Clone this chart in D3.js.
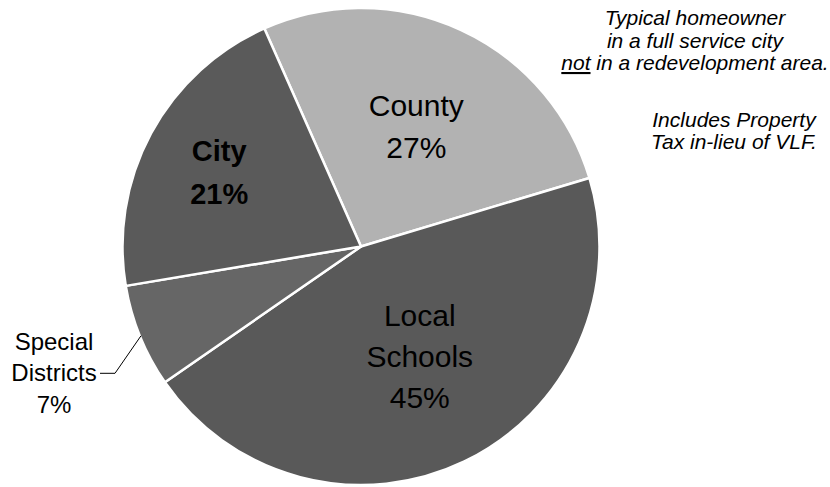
<!DOCTYPE html>
<html>
<head>
<meta charset="utf-8">
<script src="https://cdn.jsdelivr.net/npm/d3@7"></script>
<style>
  html, body { margin: 0; padding: 0; background: #ffffff; }
  svg { display: block; }
  text { font-family: "Liberation Sans", Arial, Helvetica, sans-serif; fill: #000; }
</style>
</head>
<body>
<svg id="chart" width="830" height="487"></svg>
<script>
// Shares of the property tax dollar
const categories = ["County", "Local Schools", "Special Districts", "City"];
const labelLines = [["County"], ["Local", "Schools"], ["Special", "Districts"], ["City"]];
const shares = [27, 45, 7, 21];
const colors = ["#b2b2b2", "#595959", "#666666", "#5a5a5a"];
const noteLines = ["Typical homeowner", "in a full service city", "not in a redevelopment area."];
const noteLines2 = ["Includes Property", "Tax in-lieu of VLF."];

const svg = d3.select("#chart");
const cx = 361, cy = 246.5, R = 238.5;
const startDeg = -23.9;

const pie = d3.pie()
  .sort(null)
  .value(d => d)
  .startAngle(startDeg * Math.PI / 180)
  .endAngle((startDeg + 360) * Math.PI / 180);

const arcs = pie(shares);
const arc = d3.arc().innerRadius(0).outerRadius(R);

const g = svg.append("g").attr("transform", `translate(${cx},${cy})`);

g.selectAll("path.slice")
  .data(arcs)
  .join("path")
  .attr("class", "slice")
  .attr("d", arc)
  .attr("fill", (d, i) => colors[i])
  .attr("stroke", "#ffffff")
  .attr("stroke-width", 2.5)
  .attr("stroke-linejoin", "round");

// In-slice labels: radius factor along the mid angle, plus a small nudge
const inside = {
  0: { k: 0.555, dx: 0, dy: 0, size: 30, lh: 42, bold: false },
  1: { k: 0.51, dx: 6, dy: 0, size: 30, lh: 41, bold: false },
  3: { k: 0.675, dx: 0, dy: 2, size: 29, lh: 43, bold: true }
};

Object.keys(inside).forEach(key => {
  const i = +key;
  const o = inside[i];
  const a = arcs[i];
  const pos = d3.arc().innerRadius(R * o.k).outerRadius(R * o.k).centroid(a);
  const lines = labelLines[i].concat([shares[i] + "%"]);
  const x = pos[0] + o.dx;
  const yMid = pos[1] + o.dy;
  const cap = o.size * 0.716;
  const y0 = yMid - (lines.length - 1) * o.lh / 2 + cap / 2;
  const t = g.append("text")
    .attr("text-anchor", "middle")
    .attr("font-size", o.size)
    .attr("font-weight", o.bold ? "bold" : "normal");
  lines.forEach((ln, j) => {
    t.append("tspan").attr("x", x).attr("y", y0 + j * o.lh).text(ln);
  });
});

// Special Districts label outside with a leader line
{
  const i = 2;
  const a = arcs[i];
  const mid = (a.startAngle + a.endAngle) / 2;
  const edge = [Math.sin(mid) * (R - 1), -Math.cos(mid) * (R - 1)];
  const lines = labelLines[i].concat([shares[i] + "%"]);
  const tx = 54 - cx, lh = 31.3, yFirst = 350 - cy;
  const t = g.append("text")
    .attr("text-anchor", "middle")
    .attr("font-size", 24);
  lines.forEach((ln, j) => {
    t.append("tspan").attr("x", tx).attr("y", yFirst + j * lh).text(ln);
  });
  const ly = yFirst + lh - 8;
  g.append("polyline")
    .attr("points", [[100 - cx, ly], [115 - cx, ly], edge].map(p => p.join(",")).join(" "))
    .attr("fill", "none")
    .attr("stroke", "#000")
    .attr("stroke-width", 1);
}

// Notes at upper right
const note = svg.append("text")
  .attr("text-anchor", "middle")
  .attr("font-size", 21)
  .attr("font-style", "italic");
noteLines.forEach((ln, j) => {
  const ts = note.append("tspan").attr("x", 695).attr("y", 25 + j * 22.5);
  if (ln.startsWith("not ")) {
    ts.append("tspan").attr("text-decoration", "underline").text("not");
    ts.append("tspan").text(ln.slice(3));
  } else {
    ts.text(ln);
  }
});

const note2 = svg.append("text")
  .attr("text-anchor", "middle")
  .attr("font-size", 21)
  .attr("font-style", "italic");
noteLines2.forEach((ln, j) => {
  note2.append("tspan").attr("x", 734).attr("y", 126.5 + j * 22).text(ln);
});
</script>
</body>
</html>
